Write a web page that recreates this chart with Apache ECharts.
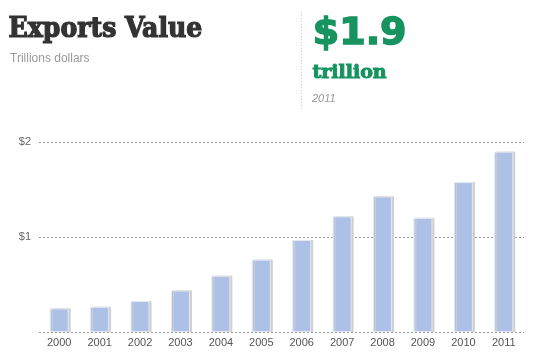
<!DOCTYPE html>
<html>
<head>
<meta charset="utf-8">
<script src="https://cdn.jsdelivr.net/npm/echarts@6/dist/echarts.min.js"></script>
<style>html,body{margin:0;padding:0;background:#fff;}#c{width:543px;height:359px;}</style>
</head>
<body>
<div id="c"></div>
<script>
var categories = ['2000','2001','2002','2003','2004','2005','2006','2007','2008','2009','2010','2011'];
var exportValues = [0.249, 0.266, 0.326, 0.438, 0.593, 0.762, 0.969, 1.218, 1.428, 1.202, 1.578, 1.899];
var yTicks = [0, 1, 2];
var titleText = 'Exports Value';
var subtitleText = 'Trillions dollars';
var bigValueText = '$1.9';
var unitText = 'trillion';
var yearText = '2011';

var chart = echarts.init(document.getElementById('c'), null, {renderer: 'canvas'});
var green = '#17935f';
chart.setOption({
  backgroundColor: '#fff',
  animation: false,
  grid: {left: 39, right: 19, top: 142, bottom: 27, containLabel: false},
  xAxis: {
    type: 'category',
    data: categories,
    axisLine: {show: false},
    axisTick: {show: false},
    axisLabel: {color: '#555', fontSize: 11, fontFamily: 'Arial, Liberation Sans, sans-serif', margin: 5}
  },
  yAxis: {
    type: 'value',
    min: yTicks[0],
    max: yTicks[yTicks.length - 1],
    interval: 1,
    axisLine: {show: false},
    axisTick: {show: false},
    axisLabel: {
      color: '#666', fontSize: 11, fontFamily: 'Arial, Liberation Sans, sans-serif', margin: 8,
      formatter: function (v) { return v === 0 ? '' : '$' + v; }
    },
    splitLine: {lineStyle: {color: '#999', type: [2, 2], width: 1}}
  },
  series: [{
    type: 'bar',
    data: exportValues,
    barWidth: 19,
    itemStyle: {
      color: '#adc0e5',
      borderColor: '#e3e9f4',
      borderWidth: 1,
      shadowColor: '#cfcfcf',
      shadowOffsetX: 2,
      shadowOffsetY: 0,
      shadowBlur: 0
    }
  }],
  graphic: [
    {type: 'text', left: 8, top: 15, style: {text: titleText, font: 'bold 28px "DejaVu Serif Condensed", "DejaVu Serif", serif', fill: '#333', stroke: '#333', lineWidth: 1.2}},
    {type: 'text', left: 10, top: 53, style: {text: subtitleText, font: '12px Arial, "Liberation Sans", sans-serif', fill: '#999'}},
    {type: 'line', shape: {x1: 301.5, y1: 12, x2: 301.5, y2: 110}, style: {stroke: '#ccc', lineWidth: 1, lineDash: [1, 2]}},
    {type: 'text', left: 312, top: 14, style: {text: bigValueText, font: 'bold 38px "DejaVu Sans", sans-serif', fill: green, stroke: green, lineWidth: 1.5}},
    {type: 'text', left: 312, top: 63, style: {text: unitText, font: 'bold 19px "DejaVu Serif", serif', fill: green, stroke: green, lineWidth: 1}},
    {type: 'text', left: 312, top: 93, style: {text: yearText, font: 'italic 11px Arial, "Liberation Sans", sans-serif', fill: '#999'}}
  ]
});
</script>
</body>
</html>
